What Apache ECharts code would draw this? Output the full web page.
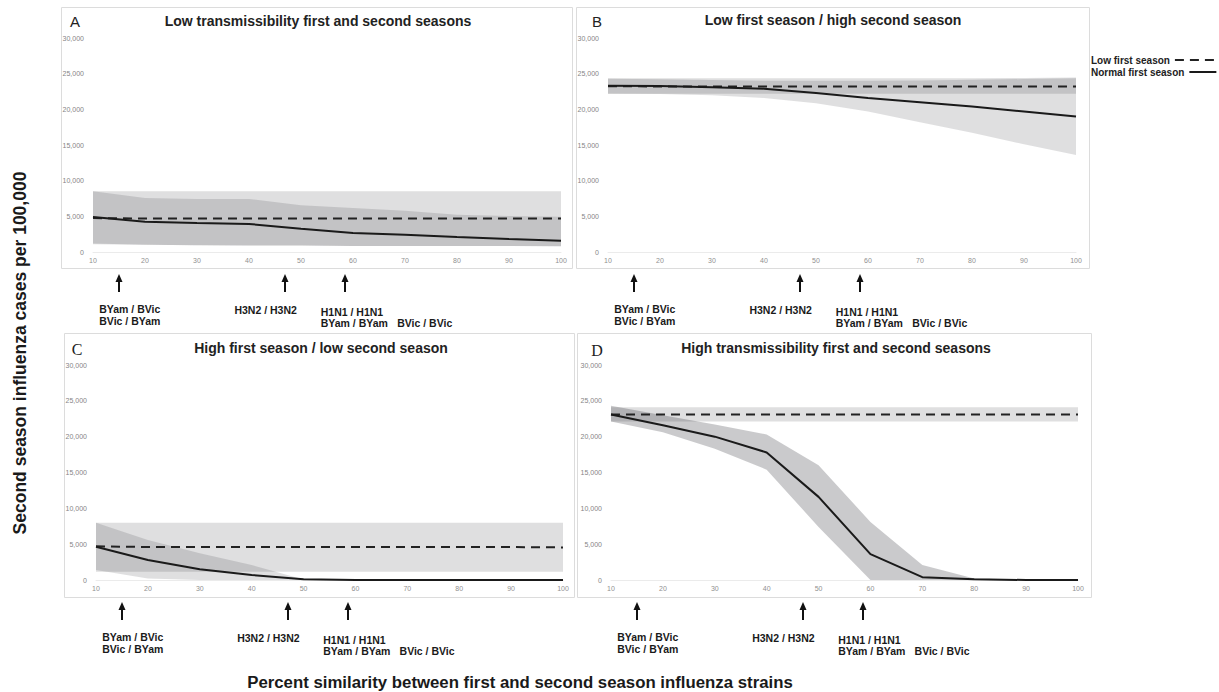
<!DOCTYPE html>
<html>
<head>
<meta charset="utf-8">
<script src="https://cdn.jsdelivr.net/npm/echarts@6/dist/echarts.min.js"></script>
<style>
html,body{margin:0;padding:0;background:#fff;}
#c{width:1219px;height:692px;}
</style>
</head>
<body>
<div id="c"></div>
<script>
// ---------- data ----------
const similarity = [10, 20, 30, 40, 50, 60, 70, 80, 90, 100];
const yTicks = [0, 5000, 10000, 15000, 20000, 25000, 30000];

const panelLetters = ['A', 'B', 'C', 'D'];
const panelTitles = [
  'Low transmissibility first and second seasons',
  'Low first season / high second season',
  'High first season / low second season',
  'High transmissibility first and second seasons'
];
const seriesNames = ['Low first season', 'Normal first season'];

// Panel A
const A_low      = [4750, 4700, 4700, 4700, 4700, 4700, 4700, 4700, 4700, 4700];
const A_lowHi    = [8500, 8500, 8500, 8500, 8500, 8500, 8500, 8500, 8500, 8500];
const A_lowLo    = [1100, 1000, 950, 900, 900, 850, 850, 850, 850, 800];
const A_normal   = [4900, 4250, 4070, 3930, 3270, 2660, 2430, 2100, 1820, 1590];
const A_normalHi = [8500, 7570, 7430, 7430, 6540, 6170, 5800, 5230, 5050, 4950];
const A_normalLo = [1200, 1000, 950, 900, 900, 850, 850, 850, 850, 800];

// Panel B
const B_low      = [23250, 23200, 23200, 23200, 23200, 23200, 23200, 23200, 23200, 23200];
const B_lowHi    = [24350, 24350, 24350, 24350, 24350, 24350, 24350, 24350, 24400, 24450];
const B_lowLo    = [22200, 22200, 22200, 22200, 22200, 22200, 22200, 22200, 22200, 22200];
const B_normal   = [23300, 23270, 23100, 22900, 22300, 21600, 21000, 20400, 19700, 19000];
const B_normalHi = [24300, 24200, 24100, 24000, 24000, 24000, 24050, 24150, 24250, 24350];
const B_normalLo = [22200, 22150, 21960, 21600, 20840, 19700, 18200, 16700, 15100, 13600];

// Panel C
const C_low      = [4700, 4600, 4600, 4600, 4600, 4600, 4600, 4600, 4600, 4550];
const C_lowHi    = [8000, 8000, 8000, 8000, 8000, 8000, 8000, 8000, 8000, 8000];
const C_lowLo    = [1160, 1160, 1160, 1160, 1160, 1160, 1160, 1160, 1160, 1160];
const C_normal   = [4650, 2790, 1490, 700, 100, 0, 0, 0, 0, 0];
const C_normalHi = [8000, 5580, 3720, 2090, 60, 0, 0, 0, 0, 0];
const C_normalLo = [1400, 200, 0, 0, 0, 0, 0, 0, 0, 0];

// Panel D
const D_low      = [23100, 23100, 23100, 23100, 23100, 23100, 23100, 23100, 23100, 23100];
const D_lowHi    = [24100, 24100, 24100, 24100, 24100, 24100, 24100, 24100, 24100, 24100];
const D_lowLo    = [22100, 22100, 22100, 22100, 22100, 22100, 22100, 22100, 22100, 22100];
const D_normal   = [23100, 21600, 20000, 17800, 11600, 3600, 400, 100, 0, 0];
const D_normalHi = [24300, 23000, 21700, 20300, 16000, 8100, 2100, 200, 0, 0];
const D_normalLo = [22100, 20600, 18300, 15400, 7400, 0, 0, 0, 0, 0];

// strain-pair annotations (x = percent similarity)
const arrowAt = [15, 47, 58.5];
const labelAt = [11.2, 11.2, 37.2, 53.8, 53.8, 68.5];
const labelText = ['BYam / BVic', 'BVic / BYam', 'H3N2 / H3N2', 'H1N1 / H1N1', 'BYam / BYam', 'BVic / BVic'];

const panels = [
  {low: A_low, lowHi: A_lowHi, lowLo: A_lowLo, normal: A_normal, normalHi: A_normalHi, normalLo: A_normalLo},
  {low: B_low, lowHi: B_lowHi, lowLo: B_lowLo, normal: B_normal, normalHi: B_normalHi, normalLo: B_normalLo},
  {low: C_low, lowHi: C_lowHi, lowLo: C_lowLo, normal: C_normal, normalHi: C_normalHi, normalLo: C_normalLo},
  {low: D_low, lowHi: D_lowHi, lowLo: D_lowLo, normal: D_normal, normalHi: D_normalHi, normalLo: D_normalLo}
];

// ---------- layout / style ----------
const grids = [
  {left: 93, top: 38, width: 468, height: 214},
  {left: 608, top: 38, width: 468, height: 214},
  {left: 96, top: 365, width: 467, height: 215},
  {left: 611, top: 365, width: 467, height: 215}
];
const boxes = [
  {x: 61.5, y: 7.5, w: 511, h: 261},
  {x: 576.5, y: 7.5, w: 513, h: 261},
  {x: 64.5, y: 333.5, w: 510, h: 264},
  {x: 577.5, y: 333.5, w: 514, h: 264}
];
const titlePos = [[318, 21], [833, 20], [321, 348], [836, 348]];
const letterPos = [[75, 21], [597, 21], [77, 349], [597, 350]];
const normalBandAlpha = [0.14, 0.14, 0.14, 0.23];
const SANS = '"Liberation Sans", Arial, sans-serif';
const SERIF = '"Liberation Serif", "Times New Roman", serif';

function pairs(vals) { return similarity.map((x, i) => [x, vals[i]]); }

function band(gi, lo, hi, alpha) {
  return {
    type: 'custom', xAxisIndex: gi, yAxisIndex: gi, z: 1, silent: true,
    data: [[similarity[0], lo[0]]],
    renderItem: function (params, api) {
      const pts = [];
      for (let i = 0; i < similarity.length; i++) pts.push(api.coord([similarity[i], hi[i]]));
      for (let i = similarity.length - 1; i >= 0; i--) pts.push(api.coord([similarity[i], lo[i]]));
      return {type: 'polygon', shape: {points: pts}, style: {fill: 'rgba(25,25,35,' + alpha + ')'}};
    }
  };
}

const xAxes = [], yAxes = [], series = [];
grids.forEach((g, gi) => {
  xAxes.push({
    gridIndex: gi, type: 'value', min: 10, max: 100, interval: 10,
    axisLine: {show: true, lineStyle: {color: '#ebebeb', width: 1}},
    axisTick: {show: false}, splitLine: {show: false},
    axisLabel: {fontSize: 7, color: '#909090', margin: 5, fontFamily: SANS}
  });
  yAxes.push({
    gridIndex: gi, type: 'value', min: yTicks[0], max: yTicks[yTicks.length - 1], interval: 5000,
    axisLine: {show: false}, axisTick: {show: false}, splitLine: {show: false},
    axisLabel: {fontSize: 7, color: '#858585', margin: 9, fontFamily: SANS,
      formatter: v => v.toLocaleString('en-US')}
  });
  const p = panels[gi];
  series.push(band(gi, p.lowLo, p.lowHi, 0.14));
  series.push(band(gi, p.normalLo, p.normalHi, normalBandAlpha[gi]));
  series.push({
    name: seriesNames[0], type: 'line', xAxisIndex: gi, yAxisIndex: gi, z: 3,
    symbol: 'none', silent: true, data: pairs(p.low),
    lineStyle: {color: '#222', width: 2, type: [9, 6]}, itemStyle: {color: '#222'}
  });
  series.push({
    name: seriesNames[1], type: 'line', xAxisIndex: gi, yAxisIndex: gi, z: 3,
    symbol: 'none', silent: true, data: pairs(p.normal),
    lineStyle: {color: '#1a1a1a', width: 2, type: 'solid'}, itemStyle: {color: '#1a1a1a'}
  });
});

const legendCommon = {
  orient: 'vertical', align: 'right', itemHeight: 8, itemGap: 4, padding: 0, selectedMode: false,
  itemStyle: {opacity: 0, borderWidth: 0},
  textStyle: {fontSize: 10, fontWeight: 'bold', color: '#222', fontFamily: SANS}
};

const chart = echarts.init(document.getElementById('c'), null, {renderer: 'svg'});
chart.setOption({
  backgroundColor: '#ffffff',
  animation: false,
  grid: grids,
  xAxis: xAxes,
  yAxis: yAxes,
  legend: [
    Object.assign({}, legendCommon, {data: [seriesNames[0]], left: 1091, top: 55, itemWidth: 40}),
    Object.assign({}, legendCommon, {data: [seriesNames[1]], left: 1091, top: 67, itemWidth: 27})
  ],
  series: series
});

// ---------- graphics: boxes, titles, annotations, axis titles ----------
const gfx = [];
boxes.forEach(b => gfx.push({
  type: 'rect', z: 0, silent: true,
  shape: {x: b.x, y: b.y, width: b.w, height: b.h},
  style: {fill: 'none', stroke: '#dcdcdc', lineWidth: 1}
}));
panelTitles.forEach((t, i) => gfx.push({
  type: 'text', x: titlePos[i][0], y: titlePos[i][1], silent: true,
  style: {text: t, align: 'center', verticalAlign: 'middle', fill: '#222',
    font: 'bold 14px ' + SANS}
}));
panelLetters.forEach((l, i) => gfx.push({
  type: 'text', x: letterPos[i][0], y: letterPos[i][1], silent: true,
  style: {text: l, align: 'center', verticalAlign: 'middle', fill: '#222',
    font: (i < 2 ? '15px ' + SANS : '16px ' + SERIF)}
}));
const labelDy = [57, 69, 58, 60, 71, 71];
grids.forEach((g, gi) => {
  const base = chart.convertToPixel({gridIndex: gi}, [10, 0])[1];
  arrowAt.forEach(a => {
    const px = Math.round(chart.convertToPixel({gridIndex: gi}, [a, 0])[0]);
    const top = base + 22, bot = base + 40;
    gfx.push({type: 'line', silent: true, shape: {x1: px, y1: top + 6, x2: px, y2: bot},
      style: {stroke: '#111', lineWidth: 2}});
    gfx.push({type: 'polygon', silent: true,
      shape: {points: [[px - 3.5, top + 8], [px + 3.5, top + 8], [px, top]]},
      style: {fill: '#111'}});
  });
  labelAt.forEach((lx, k) => {
    const px = chart.convertToPixel({gridIndex: gi}, [lx, 0])[0];
    gfx.push({type: 'text', silent: true, x: px, y: base + labelDy[k],
      style: {text: labelText[k], align: 'left', verticalAlign: 'middle', fill: '#1a1a1a',
        font: 'bold 10.5px ' + SANS}});
  });
});
gfx.push({
  type: 'text', x: 20, y: 353, rotation: Math.PI / 2, silent: true,
  style: {text: 'Second season influenza cases per 100,000', align: 'center', verticalAlign: 'middle',
    fill: '#1a1a1a', font: 'bold 17.5px ' + SANS}
});
gfx.push({
  type: 'text', x: 520, y: 682, silent: true,
  style: {text: 'Percent similarity between first and second season influenza strains', align: 'center',
    verticalAlign: 'middle', fill: '#1a1a1a', font: 'bold 16.8px ' + SANS}
});
chart.setOption({graphic: gfx});
</script>
</body>
</html>
